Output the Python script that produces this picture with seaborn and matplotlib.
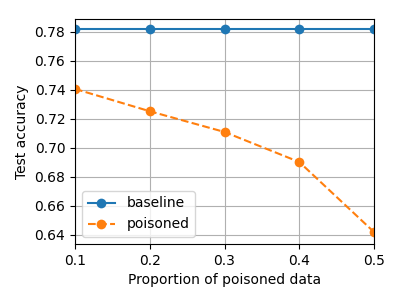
import matplotlib
matplotlib.use("Agg")
import matplotlib.pyplot as plt
import pandas as pd
import seaborn as sns

proportions = [0.1, 0.2, 0.3, 0.4, 0.5]
baseline_acc = [0.7817, 0.7817, 0.7817, 0.7817, 0.7817]
poisoned_acc = [0.7407, 0.7253, 0.7110, 0.6903, 0.6420]

df = pd.DataFrame({
    "Proportion": proportions * 2,
    "Accuracy": baseline_acc + poisoned_acc,
    "Series": ["baseline"] * len(proportions) + ["poisoned"] * len(proportions),
})

fig, ax = plt.subplots(figsize=(4, 3), dpi=100)
sns.lineplot(
    data=df,
    x="Proportion",
    y="Accuracy",
    hue="Series",
    style="Series",
    markers={"baseline": "o", "poisoned": "o"},
    dashes={"baseline": "", "poisoned": (3.7, 1.6)},
    palette=["#1f77b4", "#ff7f0e"],
    markersize=7,
    markeredgewidth=0,
    linewidth=1.5,
    ax=ax,
)
ax.set_xlim(0.1, 0.5)
ax.set_ylim(0.6338, 0.789)
ax.set_xticks([0.1, 0.2, 0.3, 0.4, 0.5])
ax.grid(True, color="#b0b0b0", linewidth=0.8)
ax.set_axisbelow(True)
ax.set_xlabel("Proportion of poisoned data")
ax.set_ylabel("Test accuracy")
ax.legend(loc="lower left", title=None)
plt.subplots_adjust(left=0.1875, right=0.935, top=0.937, bottom=0.187)
plt.savefig("out.png", dpi=100)
plt.close("all")
